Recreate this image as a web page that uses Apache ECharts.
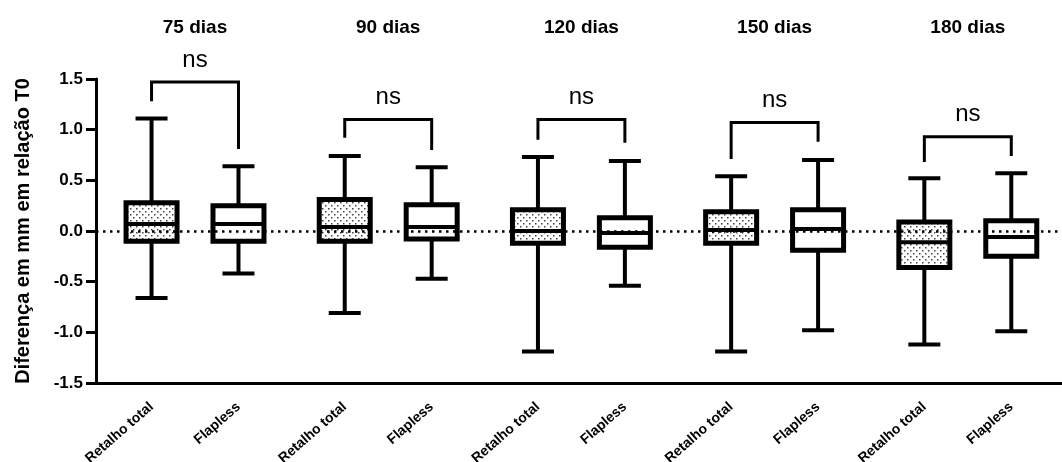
<!DOCTYPE html>
<html>
<head>
<meta charset="utf-8">
<script src="https://cdn.jsdelivr.net/npm/echarts@6/dist/echarts.min.js"></script>
<style>
html, body { margin: 0; padding: 0; background: #fff; }
#draw { width: 1062px; height: 462px; }
</style>
</head>
<body>
<div id="draw"></div>
<script>
// dados (diferença em mm em relação a T0)
var grupos = ['75 dias', '90 dias', '120 dias', '150 dias', '180 dias'];
var tratamentos = ['Retalho total', 'Flapless'];

// [mínimo, Q1, mediana, Q3, máximo]
var retalhoTotal = [
	[-0.66, -0.10, 0.07, 0.28, 1.11],
	[-0.81, -0.10, 0.04, 0.31, 0.74],
	[-1.19, -0.12, 0.00, 0.21, 0.73],
	[-1.19, -0.12, 0.01, 0.19, 0.54],
	[-1.12, -0.36, -0.11, 0.09, 0.52]
];
var flapless = [
	[-0.42, -0.10, 0.07, 0.25, 0.64],
	[-0.47, -0.08, 0.04, 0.26, 0.63],
	[-0.54, -0.16, -0.02, 0.13, 0.69],
	[-0.98, -0.19, 0.02, 0.21, 0.70],
	[-0.99, -0.25, -0.06, 0.10, 0.57]
];

// colchetes "ns": [topo, fim perna esquerda, fim perna direita]
var colchetes = [
	[1.47, 1.28, 0.81],
	[1.10, 0.92, 0.80],
	[1.10, 0.90, 0.87],
	[1.07, 0.71, 0.88],
	[0.93, 0.68, 0.74]
];
var sig = ['ns', 'ns', 'ns', 'ns', 'ns'];

var yTicks = [-1.5, -1.0, -0.5, 0.0, 0.5, 1.0, 1.5];

// layout do eixo x: categorias finas para permitir espaçamento desigual
var nCat = 200, inicio = 11, passoPar = 18, passoGrupo = 40;

(function() {
	var fonte = "'Liberation Sans', Arial, Helvetica, sans-serif";

	var cats = [];
	for (var i = 0; i < nCat; i++) cats.push('');
	var boxData = [];
	var annotData = [];
	grupos.forEach(function(g, gi) {
		var a = inicio + gi * passoGrupo;
		var b = a + passoPar;
		cats[a] = tratamentos[0];
		cats[b] = tratamentos[1];
		boxData.push([a].concat(retalhoTotal[gi]).concat([0]));
		boxData.push([b].concat(flapless[gi]).concat([1]));
		annotData.push([a, b].concat(colchetes[gi]).concat([gi]));
	});

	// padrão pontilhado para "Retalho total"
	var pat = document.createElement('canvas');
	pat.width = 6; pat.height = 6;
	var ctx = pat.getContext('2d');
	ctx.fillStyle = '#ffffff';
	ctx.fillRect(0, 0, 6, 6);
	ctx.fillStyle = '#444444';
	ctx.fillRect(1, 1, 1.5, 1.5);
	ctx.fillRect(4, 4, 1.5, 1.5);

	var myChart = echarts.init(document.getElementById('draw'));

	var renderBox = function(params, api) {
		var x = api.value(0);
		var lo = api.coord([x, api.value(1)]);
		var q1 = api.coord([x, api.value(2)]);
		var md = api.coord([x, api.value(3)]);
		var q3 = api.coord([x, api.value(4)]);
		var hi = api.coord([x, api.value(5)]);
		var tipo = api.value(6);
		var cx = lo[0];
		var bw = 51, cw = 32;
		var st = { stroke: '#000', lineWidth: 4, fill: null };
		return {
			type: 'group',
			children: [
				{ type: 'line', shape: { x1: cx, y1: hi[1], x2: cx, y2: q3[1] }, style: st },
				{ type: 'line', shape: { x1: cx, y1: q1[1], x2: cx, y2: lo[1] }, style: st },
				{ type: 'line', shape: { x1: cx - cw / 2, y1: hi[1], x2: cx + cw / 2, y2: hi[1] }, style: st },
				{ type: 'line', shape: { x1: cx - cw / 2, y1: lo[1], x2: cx + cw / 2, y2: lo[1] }, style: st },
				{
					type: 'rect',
					shape: { x: cx - bw / 2, y: q3[1], width: bw, height: q1[1] - q3[1] },
					style: {
						fill: tipo === 0 ? { image: pat, repeat: 'repeat' } : '#ffffff',
						stroke: '#000', lineWidth: 5
					}
				},
				{ type: 'line', shape: { x1: cx - bw / 2, y1: md[1], x2: cx + bw / 2, y2: md[1] }, style: st }
			]
		};
	};

	var renderAnnot = function(params, api) {
		var a = api.value(0), b = api.value(1);
		var top = api.coord([a, api.value(2)]);
		var le = api.coord([a, api.value(3)]);
		var re = api.coord([b, api.value(4)]);
		var gi = api.value(5);
		var st = { stroke: '#000', lineWidth: 3, fill: null };
		var mid = (le[0] + re[0]) / 2;
		return {
			type: 'group',
			children: [
				{ type: 'polyline', shape: { points: [[le[0], le[1]], [le[0], top[1]], [re[0], top[1]], [re[0], re[1]]] }, style: st },
				{
					type: 'text', x: mid, y: top[1] - 22,
					style: { text: sig[gi], fill: '#000', font: '24px ' + fonte, align: 'center', verticalAlign: 'middle' }
				},
				{
					type: 'text', x: mid, y: 28,
					style: { text: grupos[gi], fill: '#000', font: 'bold 19px ' + fonte, align: 'center', verticalAlign: 'middle' }
				}
			]
		};
	};

	var option = {
		animation: false,
		grid: { left: 96, right: 0, top: 79, bottom: 79, outerBoundsMode: 'none', containLabel: false },
		xAxis: {
			type: 'category',
			data: cats,
			boundaryGap: true,
			axisLine: { onZero: false, lineStyle: { color: '#000', width: 3 } },
			axisTick: {
				alignWithLabel: true,
				length: 8,
				lineStyle: { color: '#000', width: 3 },
				interval: function(i, v) { return v !== ''; }
			},
			axisLabel: {
				interval: function(i, v) { return v !== ''; },
				rotate: 41,
				margin: 22,
				color: '#000',
				fontWeight: 'bold',
				fontSize: 14,
				fontFamily: fonte
			},
			splitLine: { show: false }
		},
		yAxis: {
			type: 'value',
			min: yTicks[0],
			max: yTicks[yTicks.length - 1],
			interval: 0.5,
			name: 'Diferença em mm em relação T0',
			nameLocation: 'middle',
			nameGap: 63,
			nameTextStyle: { color: '#000', fontWeight: 'bold', fontSize: 20, fontFamily: fonte },
			axisLine: { show: true, lineStyle: { color: '#000', width: 3 } },
			axisTick: { show: true, length: 10, lineStyle: { color: '#000', width: 3 } },
			axisLabel: {
				color: '#000', fontWeight: 'bold', fontSize: 17, fontFamily: fonte, margin: 13,
				formatter: function(v) { return v.toFixed(1); }
			},
			splitLine: { show: false }
		},
		series: [{
			type: 'custom',
			name: 'caixas',
			renderItem: renderBox,
			data: boxData,
			encode: { x: 0, y: [1, 2, 3, 4, 5] },
			z: 2,
			markLine: {
				silent: true,
				symbol: 'none',
				label: { show: false },
				lineStyle: { color: '#000', width: 2.5, type: [2.5, 4.5], opacity: 1 },
				data: [{ yAxis: 0 }],
				z: 5
			}
		}, {
			type: 'custom',
			name: 'ns',
			renderItem: renderAnnot,
			data: annotData,
			encode: { x: 0, y: [2, 3, 4] },
			clip: false,
			z: 3
		}]
	};
	myChart.setOption(option);
})();
</script>
</body>
</html>
